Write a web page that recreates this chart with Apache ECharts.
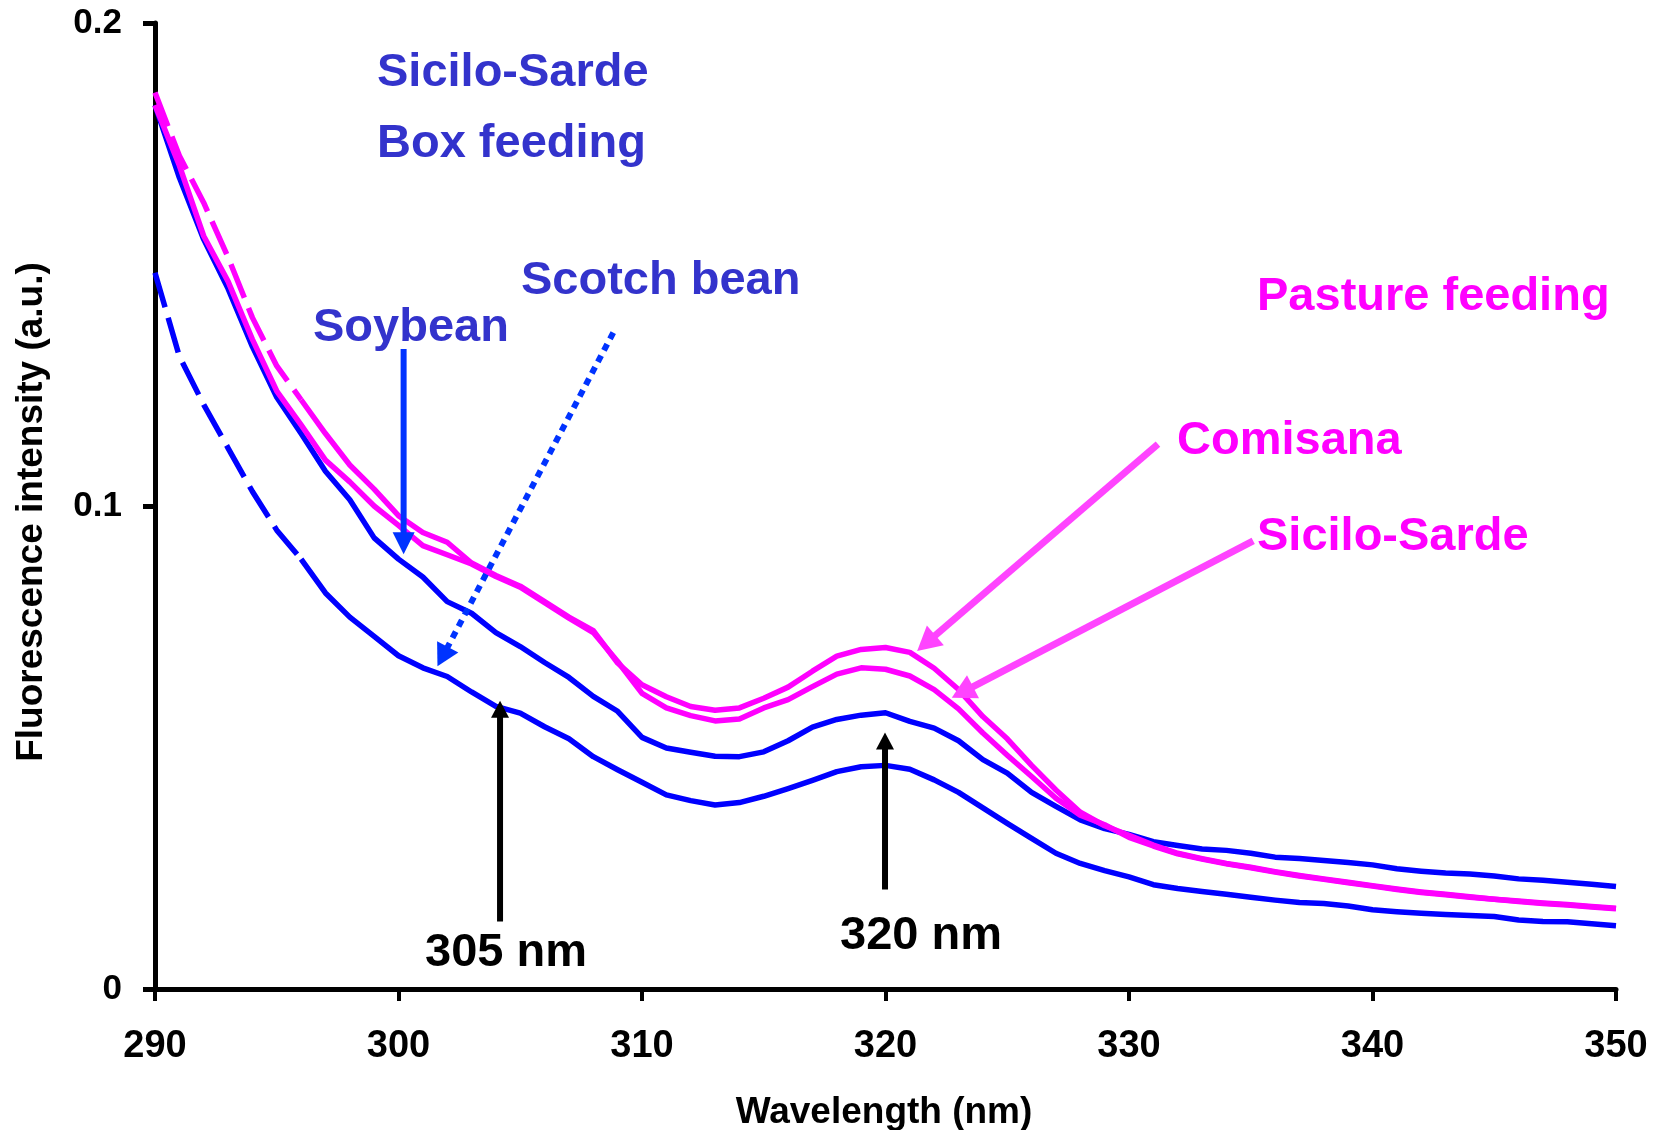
<!DOCTYPE html>
<html>
<head>
<meta charset="utf-8">
<script src="https://cdn.jsdelivr.net/npm/echarts@6/dist/echarts.min.js"></script>
<style>
html,body{margin:0;padding:0;background:#ffffff;}
#chart{width:1661px;height:1130px;}
</style>
</head>
<body>
<div id="chart"></div>
<script>
// ---------------- DATA ----------------
const wavelengths = [290,291,292,293,294,295,296,297,298,299,
  300,301,302,303,304,305,306,307,308,309,
  310,311,312,313,314,315,316,317,318,319,
  320,321,322,323,324,325,326,327,328,329,
  330,331,332,333,334,335,336,337,338,339,
  340,341,342,343,344,345,346,347,348,349,350];

// Pasture feeding – Comisana (magenta)
const pastureComisana = [0.1856,0.1725,0.1628,0.1515,0.1390,0.1290,0.1220,0.1150,0.1085,0.1035,
  0.0980,0.0945,0.0925,0.0882,0.0856,0.0834,0.0802,0.0770,0.0742,0.0675,
  0.0630,0.0605,0.0585,0.0577,0.0582,0.0602,0.0625,0.0658,0.0689,0.0703,
  0.0707,0.0697,0.0664,0.0620,0.0564,0.0518,0.0463,0.0412,0.0366,0.0338,
  0.0318,0.0298,0.0281,0.0270,0.0260,0.0252,0.0243,0.0235,0.0228,0.0221,
  0.0214,0.0207,0.0201,0.0196,0.0191,0.0186,0.0182,0.0178,0.0175,0.0171,0.0167];

// Pasture feeding – Sicilo-Sarde (magenta)
const pastureSiciloSarde = [0.1830,0.1705,0.1559,0.1465,0.1345,0.1238,0.1168,0.1095,0.1050,0.1000,
  0.0960,0.0918,0.0899,0.0880,0.0854,0.0832,0.0800,0.0768,0.0738,0.0678,
  0.0612,0.0582,0.0566,0.0555,0.0559,0.0582,0.0599,0.0626,0.0652,0.0665,
  0.0662,0.0648,0.0620,0.0580,0.0530,0.0484,0.0440,0.0395,0.0360,0.0340,
  0.0314,0.0296,0.0280,0.0269,0.0259,0.0251,0.0242,0.0234,0.0227,0.0220,
  0.0213,0.0206,0.0200,0.0195,0.0190,0.0186,0.0181,0.0177,0.0174,0.0170,0.0166];

// Box feeding (Sicilo-Sarde) – Soybean (blue)
const boxSoybean = [0.1830,0.1680,0.1552,0.1450,0.1330,0.1225,0.1150,0.1072,0.1013,0.0934,
  0.0890,0.0853,0.0802,0.0778,0.0738,0.0709,0.0676,0.0645,0.0606,0.0575,
  0.0521,0.0499,0.0490,0.0482,0.0481,0.0491,0.0514,0.0542,0.0558,0.0567,
  0.0572,0.0554,0.0540,0.0514,0.0475,0.0447,0.0407,0.0378,0.0350,0.0332,
  0.0320,0.0305,0.0297,0.0290,0.0287,0.0281,0.0273,0.0270,0.0266,0.0262,
  0.0257,0.0249,0.0244,0.0240,0.0238,0.0234,0.0228,0.0225,0.0221,0.0217,0.0212];

// Box feeding (Sicilo-Sarde) – Scotch bean (blue)
const boxScotchBean = [0.1483,0.1310,0.1210,0.1120,0.1030,0.0950,0.0890,0.0820,0.0770,0.0730,
  0.0690,0.0665,0.0647,0.0615,0.0585,0.0571,0.0543,0.0518,0.0481,0.0454,
  0.0428,0.0402,0.0390,0.0381,0.0386,0.0399,0.0415,0.0432,0.0450,0.0460,
  0.0463,0.0455,0.0433,0.0407,0.0375,0.0343,0.0312,0.0281,0.0260,0.0245,
  0.0232,0.0216,0.0208,0.0202,0.0196,0.0190,0.0184,0.0179,0.0177,0.0172,
  0.0164,0.0160,0.0157,0.0154,0.0152,0.0150,0.0143,0.0140,0.0139,0.0135,0.0131];

const xTicks = [290, 300, 310, 320, 330, 340, 350];
const yTicks = [0, 0.1, 0.2];

// annotation arrows (data coordinates: [nm, intensity])
const arrowSoybean   = {from: [300.21, 0.1325], to: [300.21, 0.0900]};
const arrowScotch    = {from: [308.82, 0.1359], to: [301.60, 0.0668]};
const arrow305       = {from: [304.17, 0.0140], to: [304.17, 0.0597]};
const arrow320       = {from: [319.98, 0.0206], to: [319.98, 0.0531]};
const arrowComisana  = {from: [331.19, 0.1128], to: [321.30, 0.0700]};
const arrowSicilo    = {from: [335.10, 0.0928], to: [322.72, 0.0603]};

// ---------------- CHART ----------------
const FONT = '"Liberation Sans", Arial, Helvetica, sans-serif';
const BLUE = '#0000FF';
const MAGENTA = '#FF00FF';
const ARROW_BLUE = '#0033FF';
const ARROW_MAG = '#FF44FF';
const TEXT_BLUE = '#3333CC';
const LW = 5.5;

function pairs(vals) { return wavelengths.map((w, i) => [w, vals[i]]); }
const DASH_END = 6; // index where dashed start becomes solid

function lineSeries(name, vals, color, dashedStart) {
  const p = pairs(vals);
  const out = [];
  if (dashedStart) {
    out.push({
      name: name + ' (start)', type: 'line', data: p.slice(0, DASH_END + 1),
      symbol: 'none', silent: true, animation: false,
      lineStyle: {color: color, width: LW, type: [36, 11], cap: 'butt'}
    });
    out.push({
      name: name, type: 'line', data: p.slice(DASH_END),
      symbol: 'none', silent: true, animation: false,
      lineStyle: {color: color, width: LW, cap: 'butt', join: 'round'}
    });
  } else {
    out.push({
      name: name, type: 'line', data: p,
      symbol: 'none', silent: true, animation: false,
      lineStyle: {color: color, width: LW, cap: 'butt', join: 'round'}
    });
  }
  return out;
}

const chart = echarts.init(document.getElementById('chart'), null, {renderer: 'canvas'});

const option = {
  backgroundColor: '#ffffff',
  animation: false,
  textStyle: {fontFamily: FONT},
  grid: {left: 155, right: 45, top: 23, bottom: 141, containLabel: false},
  xAxis: {
    type: 'value', min: xTicks[0], max: xTicks[xTicks.length - 1], interval: 10,
    axisLine: {show: true, onZero: false, lineStyle: {color: '#000', width: 5}},
    axisTick: {show: true, inside: false, length: 12, lineStyle: {color: '#000', width: 4}},
    axisLabel: {show: true, margin: 39, color: '#000', fontSize: 38, fontWeight: 'bold', fontFamily: FONT},
    splitLine: {show: false}
  },
  yAxis: {
    type: 'value', min: yTicks[0], max: yTicks[yTicks.length - 1], interval: 0.1,
    axisLine: {show: true, onZero: false, lineStyle: {color: '#000', width: 5}},
    axisTick: {show: true, inside: false, length: 12, lineStyle: {color: '#000', width: 5}},
    axisLabel: {show: true, margin: 33, color: '#000', fontSize: 35, fontWeight: 'bold', fontFamily: FONT,
      formatter: v => String(Math.round(v * 10) / 10)},
    splitLine: {show: false}
  },
  series: [].concat(
    lineSeries('Box feeding – Scotch bean', boxScotchBean, BLUE, true),
    lineSeries('Box feeding – Soybean', boxSoybean, BLUE, false),
    lineSeries('Pasture feeding – Sicilo-Sarde', pastureSiciloSarde, MAGENTA, false),
    lineSeries('Pasture feeding – Comisana', pastureComisana, MAGENTA, true)
  )
};
chart.setOption(option);

// ---- annotations (arrows + texts) ----
function px(pt) { return chart.convertToPixel({gridIndex: 0}, pt); }

function arrow(def, color, width, headLen, headW, dash) {
  const a = px(def.from), b = px(def.to);
  const dx = b[0] - a[0], dy = b[1] - a[1];
  const len = Math.sqrt(dx * dx + dy * dy);
  const ux = dx / len, uy = dy / len;
  const bx = b[0] - ux * headLen, by = b[1] - uy * headLen;
  const nx = -uy, ny = ux;
  return [
    {type: 'line', silent: true, z: 50,
     shape: {x1: a[0], y1: a[1], x2: bx + ux * 2, y2: by + uy * 2},
     style: {stroke: color, lineWidth: width, lineDash: dash || null, lineCap: 'butt'}},
    {type: 'polygon', silent: true, z: 50,
     shape: {points: [[b[0], b[1]], [bx + nx * headW / 2, by + ny * headW / 2], [bx - nx * headW / 2, by - ny * headW / 2]]},
     style: {fill: color}}
  ];
}

function label(text, x, y, color, size, align) {
  return {type: 'text', silent: true, z: 60, x: x, y: y,
    style: {text: text, x: 0, y: 0, fill: color, font: 'bold ' + size + 'px ' + FONT,
      align: align || 'left', verticalAlign: 'middle', textAlign: align || 'left', textVerticalAlign: 'middle'}};
}

const graphics = [].concat(
  arrow(arrowSoybean, ARROW_BLUE, 6, 22, 22),
  arrow(arrowScotch, ARROW_BLUE, 6, 22, 24, [7, 6]),
  arrow(arrow305, '#000000', 6, 17, 18),
  arrow(arrow320, '#000000', 6, 17, 18),
  arrow(arrowComisana, ARROW_MAG, 7, 24, 26),
  arrow(arrowSicilo, ARROW_MAG, 7, 24, 26),
  [
    label('Sicilo-Sarde', 377, 73, TEXT_BLUE, 47),
    label('Box feeding', 377, 144, TEXT_BLUE, 47),
    label('Scotch bean', 521, 281, TEXT_BLUE, 47),
    label('Soybean', 313, 328, TEXT_BLUE, 47),
    label('Pasture feeding', 1257, 297, MAGENTA, 47),
    label('Comisana', 1177, 441, MAGENTA, 47),
    label('Sicilo-Sarde', 1257, 537, MAGENTA, 47),
    label('305 nm', 425, 953, '#000000', 47),
    label('320 nm', 840, 936, '#000000', 47),
    label('Wavelength (nm)', 884, 1113, '#000000', 37, 'center'),
    Object.assign(label('Fluorescence intensity (a.u.)', 32, 512, '#000000', 37, 'center'), {rotation: Math.PI / 2})
  ]
);
chart.setOption({graphic: graphics});
</script>
</body>
</html>
